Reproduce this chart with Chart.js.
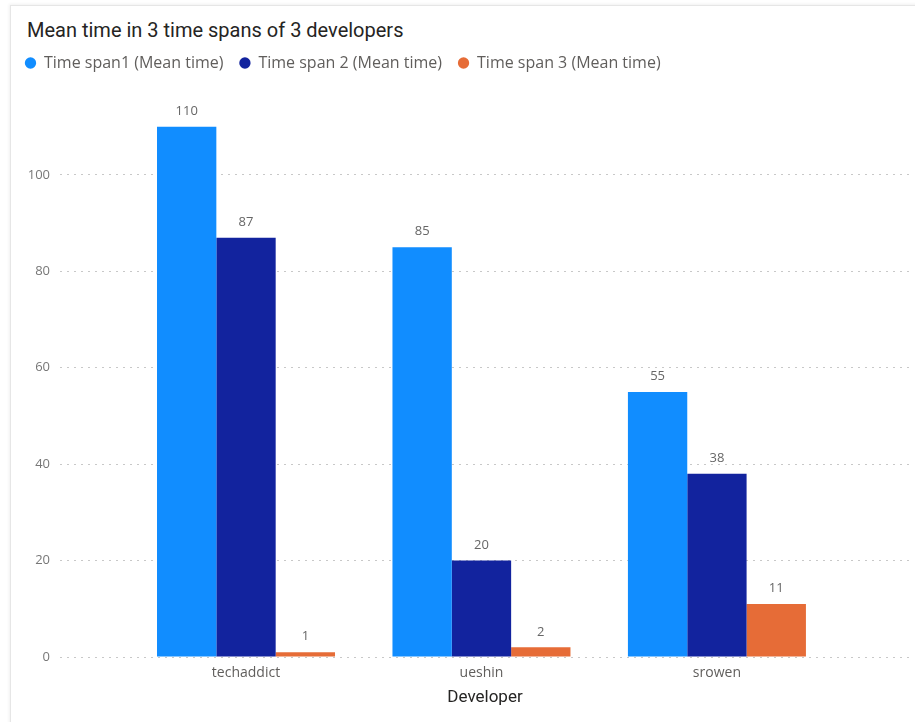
<!DOCTYPE html>
<html>
<head>
<meta charset="utf-8">
<script src="https://cdn.jsdelivr.net/npm/chart.js@4/dist/chart.umd.min.js"></script>
<style>
  html, body { margin: 0; padding: 0; background: #fff; }
  .wrap { position: relative; width: 915px; height: 722px; overflow: hidden; }
  .card {
    position: absolute; left: 10px; top: 5px; width: 940px; height: 760px;
    border-left: 1px solid #e6e6e6; border-top: 1px solid #e6e6e6;
    box-shadow: -1px -1px 3px rgba(0,0,0,0.06);
  }
  .title {
    position: absolute; left: 27px; top: 18px;
    font-family: Roboto, sans-serif; font-size: 20px; color: #252423;
  }
  canvas { position: absolute; left: 0; top: 0; }
</style>
</head>
<body>
<div class="wrap">
  <div class="card"></div>
  <div class="title">Mean time in 3 time spans of 3 developers</div>
  <canvas id="chart" width="915" height="722"></canvas>
</div>
<script>
// Data
const developers = ['techaddict', 'ueshin', 'srowen'];
const span1 = [110, 85, 55];
const span2 = [87, 20, 38];
const span3 = [1, 2, 11];
const seriesNames = ['Time span1 (Mean time)', 'Time span 2 (Mean time)', 'Time span 3 (Mean time)'];
const yTicks = [0, 20, 40, 60, 80, 100];

const colors = ['#118DFF', '#12239E', '#E66C37'];
const uiFont = '"Open Sans", "Noto Sans", sans-serif';

// value labels above each bar
const valueLabels = {
    id: 'valueLabels',
    afterDatasetsDraw(chart) {
        const ctx = chart.ctx;
        ctx.save();
        ctx.font = '13px ' + uiFont;
        ctx.fillStyle = '#666666';
        ctx.textAlign = 'center';
        ctx.textBaseline = 'middle';
        chart.data.datasets.forEach((ds, i) => {
            chart.getDatasetMeta(i).data.forEach((bar, j) => {
                ctx.fillText(ds.data[j].y, bar.x, bar.y - 15.5);
            });
        });
        ctx.restore();
    }
};

const toPoints = arr => arr.map((v, i) => ({ x: i, y: v }));

new Chart(document.getElementById('chart'), {
    type: 'bar',
    data: {
        datasets: [span1, span2, span3].map((arr, i) => ({
            label: seriesNames[i],
            data: toPoints(arr),
            backgroundColor: colors[i],
            categoryPercentage: 0.756,
            barPercentage: 1.0
        }))
    },
    options: {
        responsive: false,
        animation: false,
        layout: { padding: { left: 9, top: 39, right: 5, bottom: 0 } },
        plugins: {
            legend: {
                align: 'start',
                labels: {
                    usePointStyle: true,
                    pointStyle: 'circle',
                    boxWidth: 11,
                    boxHeight: 8,
                    padding: 16,
                    color: '#605E5C',
                    font: { family: uiFont, size: 16 }
                }
            },
            tooltip: { enabled: false }
        },
        scales: {
            x: {
                type: 'linear',
                offset: false,
                min: -0.79,
                max: 2.82,
                afterBuildTicks: s => { s.ticks = developers.map((d, i) => ({ value: i })); },
                afterFit: s => { s.height = 65; },
                ticks: {
                    autoSkip: false,
                    maxRotation: 0,
                    padding: 8,
                    color: '#605E5C',
                    font: { family: uiFont, size: 14 },
                    callback: v => developers[v]
                },
                grid: { display: false, drawTicks: false },
                border: { display: false },
                title: {
                    display: true,
                    text: 'Developer',
                    color: '#252423',
                    font: { family: 'Roboto, sans-serif', size: 17 },
                    padding: { top: 0, bottom: 14 }
                }
            },
            y: {
                min: 0,
                max: 119.5,
                afterBuildTicks: s => { s.ticks = yTicks.map(v => ({ value: v })); },
                afterFit: s => { s.width = 51; },
                ticks: {
                    padding: 10,
                    color: '#777777',
                    font: { family: uiFont, size: 13 }
                },
                grid: { color: '#c8c8c8', drawTicks: false },
                border: { display: false, dash: [2, 5] }
            }
        }
    },
    plugins: [valueLabels]
});
</script>
</body>
</html>
